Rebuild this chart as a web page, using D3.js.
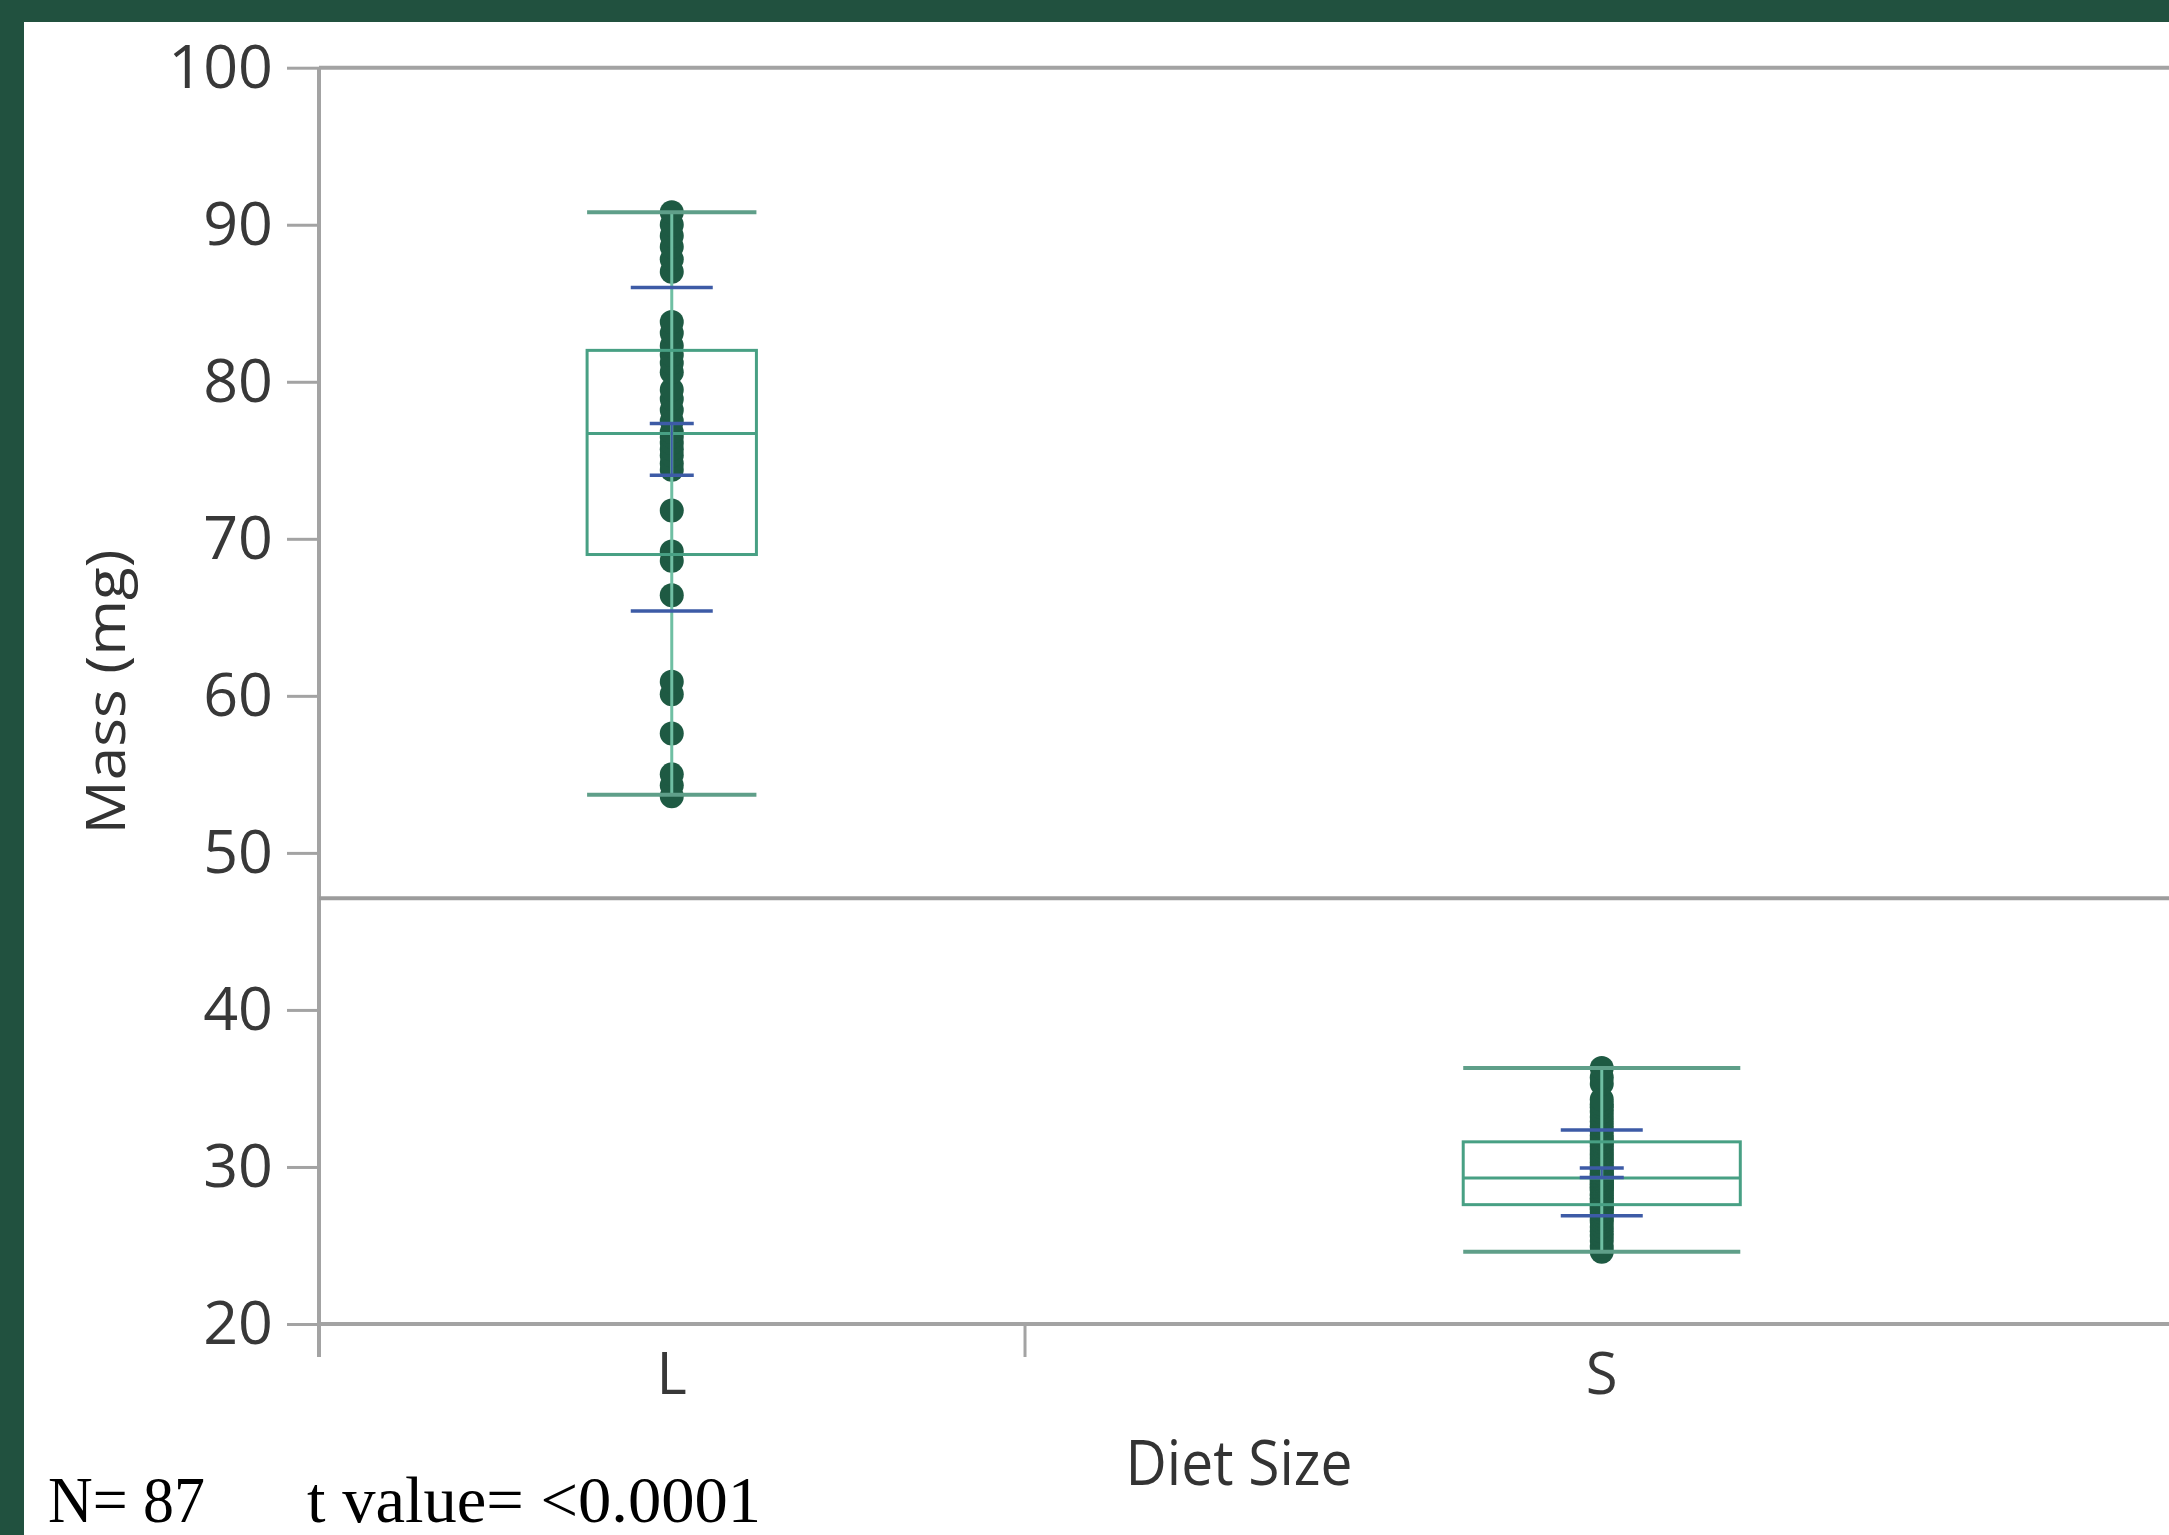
<!DOCTYPE html>
<html>
<head>
<meta charset="utf-8">
<script src="https://cdn.jsdelivr.net/npm/d3@7/dist/d3.min.js"></script>
<style>
  html, body { margin: 0; padding: 0; background: #21513f; }
  svg { display: block; }
</style>
</head>
<body>
<svg id="chart" width="2169" height="1535"></svg>
<script>
// ---------------- DATA ----------------
const categories = ["L", "S"];
const groupCounts = [33, 54];
const massL = [53.6, 54.3, 55.0, 57.6, 60.1, 60.9, 66.4, 68.6, 69.2, 71.8,
  74.4, 74.8, 75.3, 75.7, 76.1, 76.5, 76.8, 77.5, 78.2, 78.9, 79.5, 80.6, 81.2, 81.7, 82.3, 83.1, 83.8,
  87.0, 87.8, 88.6, 89.3, 90.0, 90.8];
const massS = [24.6, 24.9, 25.3, 25.6, 25.9, 26.2, 26.5, 26.7, 26.9, 27.1, 27.3, 27.4, 27.5,
  27.7, 27.9, 28.0, 28.2, 28.3, 28.5, 28.6, 28.7, 28.8, 28.9, 29.0, 29.1, 29.2, 29.3,
  29.4, 29.5, 29.6, 29.8, 29.9, 30.1, 30.3, 30.5, 30.7, 30.9, 31.1, 31.3, 31.5, 31.6,
  31.8, 32.0, 32.3, 32.6, 32.9, 33.2, 33.5, 33.8, 34.0, 34.3, 35.3, 35.7, 36.3];
const boxMin    = [53.7, 24.6];
const boxQ1     = [69.0, 27.6];
const boxMedian = [76.7, 29.3];
const boxQ3     = [82.0, 31.6];
const boxMax    = [90.8, 36.3];
const groupMean = [75.7, 29.63];
const groupSD   = [10.3, 2.73];
const meanErr   = [1.65, 0.3];
const yTicks = [20, 30, 40, 50, 60, 70, 80, 90, 100];
const yLabel = "Mass (mg)";
const xLabel = "Diet Size";
const noteN = "N= 87";
const noteT = "t value= <0.0001";

// ---------------- LAYOUT ----------------
(function () {
const W = 2169, H = 1535;
const svg = d3.select("#chart");
svg.append("rect").attr("x", 0).attr("y", 0).attr("width", W).attr("height", H).attr("fill", "#21513f");
svg.append("rect").attr("x", 24).attr("y", 22).attr("width", W - 24).attr("height", H - 22).attr("fill", "#ffffff");

const pLeft = 319, pRight = 2179, pTop = 67.7, pBottom = 1324;
const total = d3.sum(groupCounts);
const y = d3.scaleLinear().domain([20, 100]).range([pBottom, pTop]);
const xc = d3.scaleLinear().domain([0, total]).range([pLeft, pRight]);
const cum = [0];
groupCounts.forEach((c, i) => cum.push(cum[i] + c));
const groups = categories.map((c, i) => {
  const x0 = xc(cum[i]), x1 = xc(cum[i + 1]);
  return { cat: c, i, x0, x1, cx: (x0 + x1) / 2, bw: (x1 - x0),
    values: i === 0 ? massL : massS };
});

const frameColor = "#a3a3a3";
const g = svg.append("g");

// Y axis
const yAxis = d3.axisLeft(y).tickValues(yTicks).tickSize(32).tickSizeOuter(0).tickPadding(14);
const ya = g.append("g").attr("transform", `translate(${pLeft},0)`).call(yAxis);
ya.select(".domain").remove();
ya.selectAll(".tick line").attr("stroke", frameColor).attr("stroke-width", 3);
ya.selectAll(".tick text").attr("font-family", "'Open Sans', sans-serif").attr("font-size", 61)
  .attr("fill", "#383838");

// X axis (boundary ticks)
const xAxis = d3.axisBottom(xc).tickValues(cum).tickSize(33).tickSizeOuter(0).tickFormat("");
const xa = g.append("g").attr("transform", `translate(0,${pBottom})`).call(xAxis);
xa.select(".domain").remove();
xa.selectAll(".tick line").attr("stroke", frameColor).attr("stroke-width", 3);

// Frame lines
g.append("line").attr("x1", pLeft).attr("x2", pRight).attr("y1", y(100)).attr("y2", y(100))
  .attr("stroke", frameColor).attr("stroke-width", 4);
g.append("line").attr("x1", pLeft).attr("x2", pRight).attr("y1", y(20)).attr("y2", y(20))
  .attr("stroke", frameColor).attr("stroke-width", 4);
g.append("line").attr("x1", pLeft).attr("x2", pLeft).attr("y1", y(100)).attr("y2", y(20) + 33)
  .attr("stroke", frameColor).attr("stroke-width", 4);

// Grand mean reference line
const grandMean = d3.sum(groupMean.map((m, i) => m * groupCounts[i])) / total;
g.append("line").attr("x1", pLeft).attr("x2", pRight).attr("y1", y(grandMean)).attr("y2", y(grandMean))
  .attr("stroke", "#9c9c9c").attr("stroke-width", 4);

// Category labels
g.selectAll(".catlab").data(groups).join("text")
  .attr("x", d => d.cx).attr("y", 1394)
  .attr("text-anchor", "middle").attr("font-family", "'Open Sans', sans-serif")
  .attr("font-size", 58).attr("fill", "#383838").text(d => d.cat);

// Points
const dotColor = "#1e5a43";
groups.forEach(gr => {
  g.selectAll(null).data(gr.values).join("circle")
    .attr("cx", gr.cx).attr("cy", d => y(d)).attr("r", 12).attr("fill", dotColor);
});

// Box plots
const boxColor = "#48a084", capColor = "#5f9f89", blue = "#3d5ba6";
groups.forEach(gr => {
  const i = gr.i, bw = gr.bw * 0.24;
  g.append("line").attr("x1", gr.cx).attr("x2", gr.cx).attr("y1", y(boxMax[i])).attr("y2", y(boxMin[i]))
    .attr("stroke", "#6fbfa3").attr("stroke-width", 3);
  g.append("rect").attr("x", gr.cx - bw / 2).attr("width", bw)
    .attr("y", y(boxQ3[i])).attr("height", y(boxQ1[i]) - y(boxQ3[i]))
    .attr("fill", "none").attr("stroke", boxColor).attr("stroke-width", 3);
  g.append("line").attr("x1", gr.cx - bw / 2).attr("x2", gr.cx + bw / 2)
    .attr("y1", y(boxMedian[i])).attr("y2", y(boxMedian[i]))
    .attr("stroke", boxColor).attr("stroke-width", 3);
  [boxMax[i], boxMin[i]].forEach(v => {
    g.append("line").attr("x1", gr.cx - bw / 2).attr("x2", gr.cx + bw / 2)
      .attr("y1", y(v)).attr("y2", y(v)).attr("stroke", capColor).attr("stroke-width", 4);
  });
  [groupMean[i] + groupSD[i], groupMean[i] - groupSD[i]].forEach(v => {
    g.append("line").attr("x1", gr.cx - 41).attr("x2", gr.cx + 41)
      .attr("y1", y(v)).attr("y2", y(v)).attr("stroke", blue).attr("stroke-width", 3.5);
  });
  [groupMean[i] + meanErr[i], groupMean[i] - meanErr[i]].forEach(v => {
    g.append("line").attr("x1", gr.cx - 22).attr("x2", gr.cx + 22)
      .attr("y1", y(v)).attr("y2", y(v)).attr("stroke", blue).attr("stroke-width", 3.5);
  });
  g.append("line").attr("x1", gr.cx).attr("x2", gr.cx)
    .attr("y1", y(groupMean[i] + meanErr[i])).attr("y2", y(groupMean[i] - meanErr[i]))
    .attr("stroke", blue).attr("stroke-width", 2);
});

// Axis titles
svg.append("text").attr("transform", `translate(104,692) rotate(-90)`)
  .attr("text-anchor", "middle").attr("dominant-baseline", "central")
  .attr("font-family", "'Open Sans', sans-serif").attr("font-size", 54).attr("fill", "#333")
  .attr("textLength", 285).attr("lengthAdjust", "spacingAndGlyphs").text(yLabel);
svg.append("text").attr("x", 1239).attr("y", 1485).attr("text-anchor", "middle")
  .attr("font-family", "'Open Sans', sans-serif").attr("font-size", 62).attr("fill", "#333")
  .attr("textLength", 227).attr("lengthAdjust", "spacingAndGlyphs").text(xLabel);

// Notes
svg.append("text").attr("x", 48).attr("y", 1522)
  .attr("font-family", "'Liberation Serif', serif").attr("font-size", 66).attr("fill", "#000")
  .attr("textLength", 157).attr("lengthAdjust", "spacingAndGlyphs").text(noteN);
svg.append("text").attr("x", 307).attr("y", 1522)
  .attr("font-family", "'Liberation Serif', serif").attr("font-size", 66).attr("fill", "#000")
  .attr("textLength", 454).attr("lengthAdjust", "spacingAndGlyphs").text(noteT);
})();
</script>
</body>
</html>
